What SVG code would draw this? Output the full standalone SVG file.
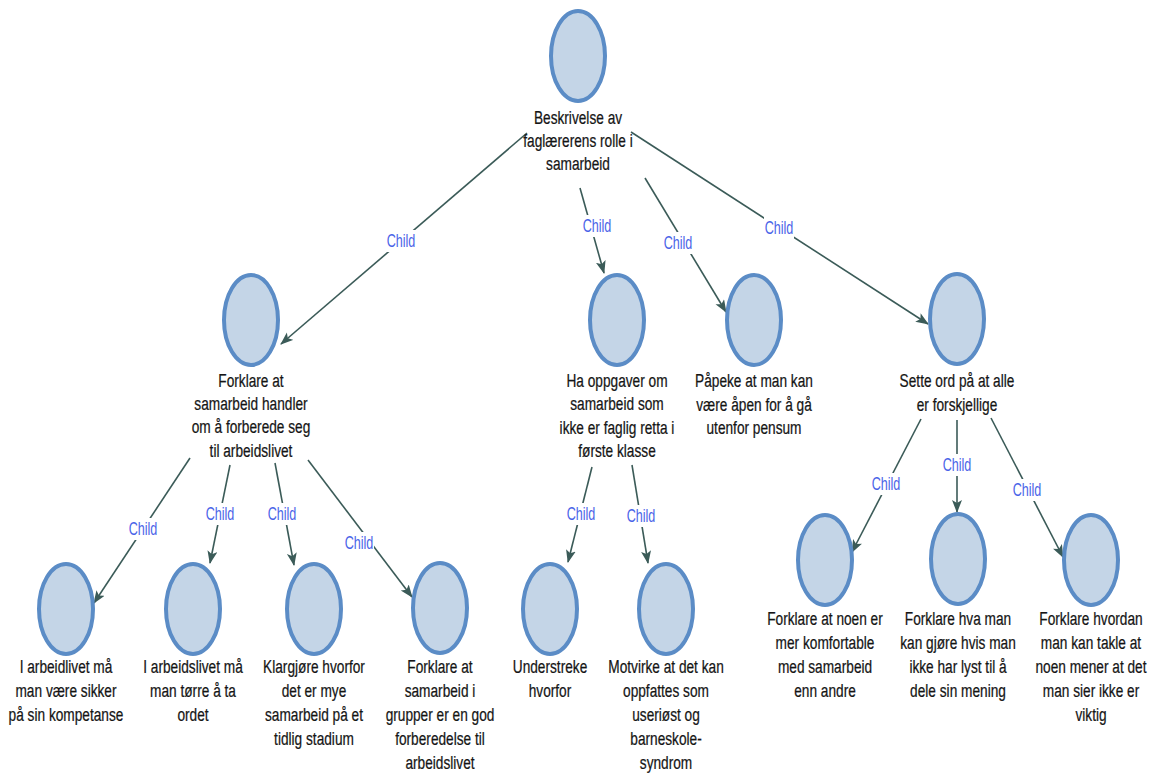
<svg xmlns="http://www.w3.org/2000/svg" width="1153" height="780" viewBox="0 0 1153 780">
<style>
.c{fill:#c4d5e7;stroke:#5b8cc6;stroke-width:4}
.t{font-family:"Liberation Sans",Arial,sans-serif;font-size:19px;fill:#151515;stroke:#151515;stroke-width:0.25;text-anchor:middle}
.e{stroke:#3b5b58;stroke-width:1.6;fill:none;marker-end:url(#ah)}
.l{font-family:"Liberation Sans",Arial,sans-serif;font-size:18px;fill:#4a63e8;text-anchor:middle}
.lb{fill:#fff}
</style>
<defs>
<marker id="ah" markerUnits="userSpaceOnUse" markerWidth="14" markerHeight="12" refX="12" refY="5" orient="auto">
<path d="M0,0 L13,5 L0,10 L3,5 Z" fill="#3b5b58"/>
</marker>
</defs>
<rect width="1153" height="780" fill="#fff"/>
<g id="connectors">
<line class="e" x1="527" y1="133" x2="281" y2="344"/>
<line class="e" x1="580" y1="188" x2="604" y2="273"/>
<line class="e" x1="645" y1="178" x2="726" y2="312"/>
<line class="e" x1="631" y1="132" x2="928" y2="324"/>
<line class="e" x1="190" y1="458" x2="94" y2="603"/>
<line class="e" x1="230" y1="465" x2="210" y2="563"/>
<line class="e" x1="275" y1="463" x2="294" y2="565"/>
<line class="e" x1="308" y1="460" x2="412" y2="597"/>
<line class="e" x1="592" y1="467" x2="568" y2="562"/>
<line class="e" x1="632" y1="465" x2="648" y2="563"/>
<line class="e" x1="921" y1="419" x2="852" y2="552"/>
<line class="e" x1="957" y1="420" x2="957" y2="512"/>
<line class="e" x1="991" y1="418" x2="1063" y2="557"/>
<g transform="translate(401,241)"><rect class="lb" x="-15" y="-11" width="30" height="22"/><text class="l" transform="scale(0.7,1)" y="6">Child</text></g>
<g transform="translate(597,226)"><rect class="lb" x="-15" y="-11" width="30" height="22"/><text class="l" transform="scale(0.7,1)" y="6">Child</text></g>
<g transform="translate(678,243)"><rect class="lb" x="-15" y="-11" width="30" height="22"/><text class="l" transform="scale(0.7,1)" y="6">Child</text></g>
<g transform="translate(779,228)"><rect class="lb" x="-15" y="-11" width="30" height="22"/><text class="l" transform="scale(0.7,1)" y="6">Child</text></g>
<g transform="translate(143,529)"><rect class="lb" x="-15" y="-11" width="30" height="22"/><text class="l" transform="scale(0.7,1)" y="6">Child</text></g>
<g transform="translate(220,514)"><rect class="lb" x="-15" y="-11" width="30" height="22"/><text class="l" transform="scale(0.7,1)" y="6">Child</text></g>
<g transform="translate(282,514)"><rect class="lb" x="-15" y="-11" width="30" height="22"/><text class="l" transform="scale(0.7,1)" y="6">Child</text></g>
<g transform="translate(359,543)"><rect class="lb" x="-15" y="-11" width="30" height="22"/><text class="l" transform="scale(0.7,1)" y="6">Child</text></g>
<g transform="translate(581,514)"><rect class="lb" x="-15" y="-11" width="30" height="22"/><text class="l" transform="scale(0.7,1)" y="6">Child</text></g>
<g transform="translate(641,516)"><rect class="lb" x="-15" y="-11" width="30" height="22"/><text class="l" transform="scale(0.7,1)" y="6">Child</text></g>
<g transform="translate(886,484)"><rect class="lb" x="-15" y="-11" width="30" height="22"/><text class="l" transform="scale(0.7,1)" y="6">Child</text></g>
<g transform="translate(957,465)"><rect class="lb" x="-15" y="-11" width="30" height="22"/><text class="l" transform="scale(0.7,1)" y="6">Child</text></g>
<g transform="translate(1027,490)"><rect class="lb" x="-15" y="-11" width="30" height="22"/><text class="l" transform="scale(0.7,1)" y="6">Child</text></g>
</g>
<g id="n0" transform="translate(578,0)"><ellipse class="c" cx="0" cy="56" rx="27" ry="45"/><text class="t" transform="scale(0.72,1)"><tspan x="0" y="124">Beskrivelse av</tspan><tspan x="0" y="147">faglærerens rolle i</tspan><tspan x="0" y="170">samarbeid</tspan></text></g>
<g id="n1" transform="translate(251,0)"><ellipse class="c" cx="0" cy="320" rx="27" ry="45"/><text class="t" transform="scale(0.72,1)"><tspan x="0" y="387">Forklare at</tspan><tspan x="0" y="410">samarbeid handler</tspan><tspan x="0" y="433">om å forberede seg</tspan><tspan x="0" y="457">til arbeidslivet</tspan></text></g>
<g id="n2" transform="translate(617,0)"><ellipse class="c" cx="0" cy="320" rx="27" ry="45"/><text class="t" transform="scale(0.72,1)"><tspan x="0" y="387">Ha oppgaver om</tspan><tspan x="0" y="410">samarbeid som</tspan><tspan x="0" y="434">ikke er faglig retta i</tspan><tspan x="0" y="457">første klasse</tspan></text></g>
<g id="n3" transform="translate(754,0)"><ellipse class="c" cx="0" cy="320" rx="27" ry="45"/><text class="t" transform="scale(0.72,1)"><tspan x="0" y="387">Påpeke at man kan</tspan><tspan x="0" y="411">være åpen for å gå</tspan><tspan x="0" y="434">utenfor pensum</tspan></text></g>
<g id="n4" transform="translate(957,0)"><ellipse class="c" cx="0" cy="319" rx="27" ry="45"/><text class="t" transform="scale(0.72,1)"><tspan x="0" y="387">Sette ord på at alle</tspan><tspan x="0" y="411">er forskjellige</tspan></text></g>
<g id="n5" transform="translate(66,0)"><ellipse class="c" cx="0" cy="609" rx="27" ry="45"/><text class="t" transform="scale(0.72,1)"><tspan x="0" y="673">I arbeidlivet må</tspan><tspan x="0" y="697">man være sikker</tspan><tspan x="0" y="721">på sin kompetanse</tspan></text></g>
<g id="n6" transform="translate(193,0)"><ellipse class="c" cx="0" cy="609" rx="27" ry="45"/><text class="t" transform="scale(0.72,1)"><tspan x="0" y="673">I arbeidslivet må</tspan><tspan x="0" y="697">man tørre å ta</tspan><tspan x="0" y="721">ordet</tspan></text></g>
<g id="n7" transform="translate(314,0)"><ellipse class="c" cx="0" cy="609" rx="27" ry="45"/><text class="t" transform="scale(0.72,1)"><tspan x="0" y="673">Klargjøre hvorfor</tspan><tspan x="0" y="697">det er mye</tspan><tspan x="0" y="721">samarbeid på et</tspan><tspan x="0" y="745">tidlig stadium</tspan></text></g>
<g id="n8" transform="translate(440,0)"><ellipse class="c" cx="0" cy="608" rx="27" ry="45"/><text class="t" transform="scale(0.72,1)"><tspan x="0" y="673">Forklare at</tspan><tspan x="0" y="697">samarbeid i</tspan><tspan x="0" y="721">grupper er en god</tspan><tspan x="0" y="745">forberedelse til</tspan><tspan x="0" y="769">arbeidslivet</tspan></text></g>
<g id="n9" transform="translate(550,0)"><ellipse class="c" cx="0" cy="609" rx="27" ry="45"/><text class="t" transform="scale(0.72,1)"><tspan x="0" y="673">Understreke</tspan><tspan x="0" y="697">hvorfor</tspan></text></g>
<g id="n10" transform="translate(666,0)"><ellipse class="c" cx="0" cy="609" rx="27" ry="45"/><text class="t" transform="scale(0.72,1)"><tspan x="0" y="673">Motvirke at det kan</tspan><tspan x="0" y="697">oppfattes som</tspan><tspan x="0" y="721">useriøst og</tspan><tspan x="0" y="745">barneskole-</tspan><tspan x="0" y="769">syndrom</tspan></text></g>
<g id="n11" transform="translate(825,0)"><ellipse class="c" cx="0" cy="560" rx="27" ry="45"/><text class="t" transform="scale(0.72,1)"><tspan x="0" y="625">Forklare at noen er</tspan><tspan x="0" y="649">mer komfortable</tspan><tspan x="0" y="673">med samarbeid</tspan><tspan x="0" y="697">enn andre</tspan></text></g>
<g id="n12" transform="translate(958,0)"><ellipse class="c" cx="0" cy="559" rx="27" ry="45"/><text class="t" transform="scale(0.72,1)"><tspan x="0" y="625">Forklare hva man</tspan><tspan x="0" y="649">kan gjøre hvis man</tspan><tspan x="0" y="673">ikke har lyst til å</tspan><tspan x="0" y="697">dele sin mening</tspan></text></g>
<g id="n13" transform="translate(1091,0)"><ellipse class="c" cx="0" cy="560" rx="27" ry="45"/><text class="t" transform="scale(0.72,1)"><tspan x="0" y="625">Forklare hvordan</tspan><tspan x="0" y="649">man kan takle at</tspan><tspan x="0" y="673">noen mener at det</tspan><tspan x="0" y="697">man sier ikke er</tspan><tspan x="0" y="721">viktig</tspan></text></g>
</svg>
